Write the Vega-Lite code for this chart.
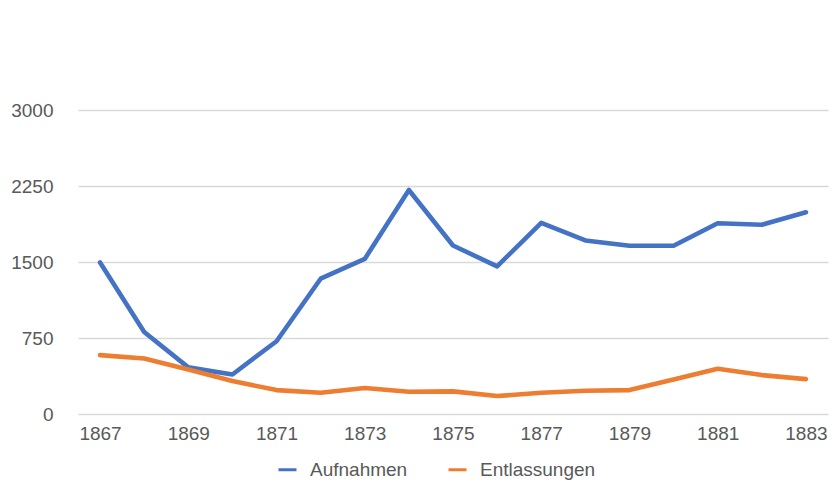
{
  "$schema": "https://vega.github.io/schema/vega-lite/v6.json",
  "autosize": {"type": "none"},
  "padding": {"left": 78, "top": 110, "right": 3, "bottom": 67},
  "width": 750,
  "height": 304,
  "background": "white",
  "config": {
    "view": {"stroke": null},
    "font": "Liberation Sans, Arial, sans-serif"
  },
  "data": {
    "values": [
      {"year": 1867, "series": "Aufnahmen", "value": 1495},
      {"year": 1868, "series": "Aufnahmen", "value": 810},
      {"year": 1869, "series": "Aufnahmen", "value": 460},
      {"year": 1870, "series": "Aufnahmen", "value": 390},
      {"year": 1871, "series": "Aufnahmen", "value": 718},
      {"year": 1872, "series": "Aufnahmen", "value": 1335},
      {"year": 1873, "series": "Aufnahmen", "value": 1530},
      {"year": 1874, "series": "Aufnahmen", "value": 2211},
      {"year": 1875, "series": "Aufnahmen", "value": 1663},
      {"year": 1876, "series": "Aufnahmen", "value": 1457},
      {"year": 1877, "series": "Aufnahmen", "value": 1887},
      {"year": 1878, "series": "Aufnahmen", "value": 1713},
      {"year": 1879, "series": "Aufnahmen", "value": 1660},
      {"year": 1880, "series": "Aufnahmen", "value": 1660},
      {"year": 1881, "series": "Aufnahmen", "value": 1883},
      {"year": 1882, "series": "Aufnahmen", "value": 1867},
      {"year": 1883, "series": "Aufnahmen", "value": 1991},
      {"year": 1867, "series": "Entlassungen", "value": 581},
      {"year": 1868, "series": "Entlassungen", "value": 548},
      {"year": 1869, "series": "Entlassungen", "value": 440},
      {"year": 1870, "series": "Entlassungen", "value": 325},
      {"year": 1871, "series": "Entlassungen", "value": 236},
      {"year": 1872, "series": "Entlassungen", "value": 210},
      {"year": 1873, "series": "Entlassungen", "value": 256},
      {"year": 1874, "series": "Entlassungen", "value": 220},
      {"year": 1875, "series": "Entlassungen", "value": 223},
      {"year": 1876, "series": "Entlassungen", "value": 177},
      {"year": 1877, "series": "Entlassungen", "value": 210},
      {"year": 1878, "series": "Entlassungen", "value": 230},
      {"year": 1879, "series": "Entlassungen", "value": 236},
      {"year": 1880, "series": "Entlassungen", "value": 341},
      {"year": 1881, "series": "Entlassungen", "value": 446},
      {"year": 1882, "series": "Entlassungen", "value": 384},
      {"year": 1883, "series": "Entlassungen", "value": 344}
    ]
  },
  "mark": {"type": "line", "strokeWidth": 4.6, "strokeCap": "round", "strokeJoin": "round"},
  "encoding": {
    "x": {
      "field": "year",
      "type": "quantitative",
      "scale": {"domain": [1866.5, 1883.5], "nice": false, "zero": false},
      "axis": {
        "title": null,
        "values": [1867, 1869, 1871, 1873, 1875, 1877, 1879, 1881, 1883],
        "format": "d",
        "grid": false,
        "ticks": false,
        "domain": false,
        "labelFontSize": 19,
        "labelColor": "#595959",
        "labelPadding": 10,
        "labelFlush": false
      }
    },
    "y": {
      "field": "value",
      "type": "quantitative",
      "scale": {"domain": [0, 3000], "nice": false},
      "axis": {
        "title": null,
        "values": [0, 750, 1500, 2250, 3000],
        "format": "d",
        "ticks": false,
        "domain": false,
        "gridColor": "#d9d9d9",
        "gridWidth": 1.6,
        "labelFontSize": 19,
        "labelColor": "#595959",
        "labelPadding": 25
      }
    },
    "color": {
      "field": "series",
      "type": "nominal",
      "scale": {"domain": ["Aufnahmen", "Entlassungen"], "range": ["#4472C4", "#ED7D31"]},
      "legend": {
        "title": null,
        "orient": "none",
        "direction": "horizontal",
        "legendX": 199,
        "legendY": 349,
        "symbolType": "stroke",
        "symbolSize": 324,
        "symbolStrokeWidth": 3,
        "labelFontSize": 19,
        "labelColor": "#595959",
        "columnPadding": 34,
        "labelOffset": 12
      }
    }
  }
}
